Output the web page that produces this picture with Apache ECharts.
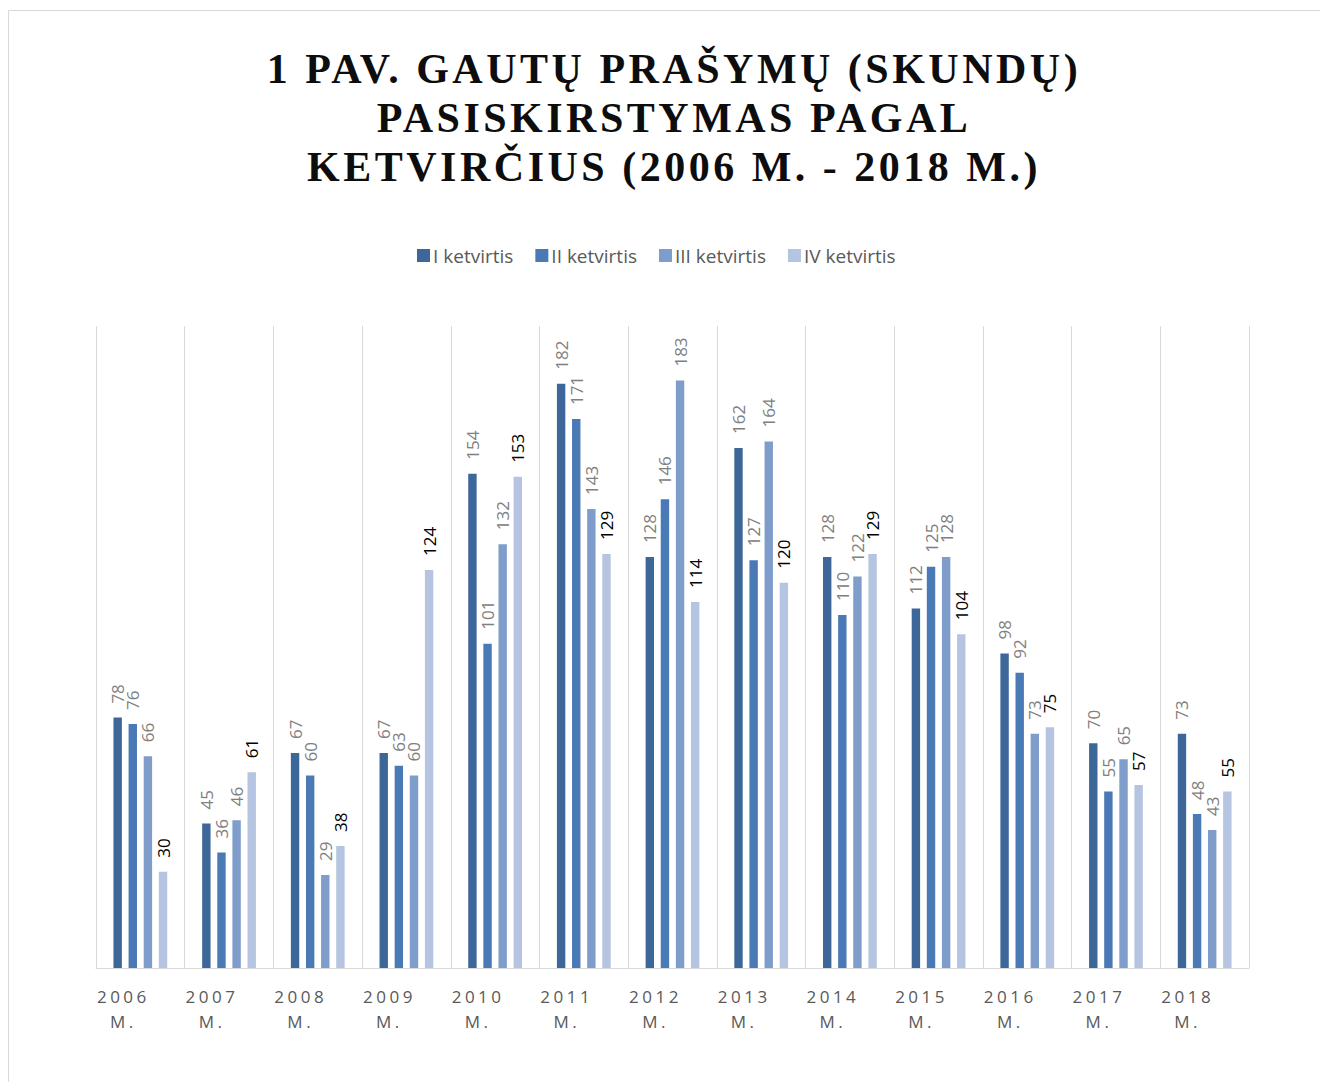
<!DOCTYPE html>
<html>
<head>
<meta charset="utf-8">
<script src="https://cdn.jsdelivr.net/npm/echarts@6/dist/echarts.min.js"></script>
<style>
  html, body { margin: 0; padding: 0; background: #fff; }
  #chart { width: 1320px; height: 1082px; }
</style>
</head>
<body>
<div id="chart"></div>
<script>
const titleLines = ['1 PAV. GAUTŲ PRAŠYMŲ (SKUNDŲ)', 'PASISKIRSTYMAS PAGAL', 'KETVIRČIUS (2006 M. - 2018 M.)'];
const categories = ['2006 M.', '2007 M.', '2008 M.', '2009 M.', '2010 M.', '2011 M.', '2012 M.', '2013 M.', '2014 M.', '2015 M.', '2016 M.', '2017 M.', '2018 M.'];
const seriesNames = ['I ketvirtis', 'II ketvirtis', 'III ketvirtis', 'IV ketvirtis'];
const q1 = [78, 45, 67, 67, 154, 182, 128, 162, 128, 112, 98, 70, 73];
const q2 = [76, 36, 60, 63, 101, 171, 146, 127, 110, 125, 92, 55, 48];
const q3 = [66, 46, 29, 60, 132, 143, 183, 164, 122, 128, 73, 65, 43];
const q4 = [30, 61, 38, 124, 153, 129, 114, 120, 129, 104, 75, 57, 55];

const colors = ['#3D6799', '#4A7AB6', '#7F9DCB', '#B4C4E1'];
const labelColors = ['#808080', '#808080', '#808080', '#000000'];
const values = [q1, q2, q3, q4];

const chart = echarts.init(document.getElementById('chart'), null, { renderer: 'svg' });

const series = values.map((v, i) => ({
  name: seriesNames[i],
  type: 'bar',
  data: v,
  barWidth: 8.4,
  barGap: '80%',
  itemStyle: { color: colors[i] },
  label: {
    show: true,
    position: 'top',
    rotate: 90,
    align: 'left',
    verticalAlign: 'middle',
    distance: 14,
    fontFamily: 'Open Sans',
    fontSize: 17,
    color: labelColors[i]
  }
}));

chart.setOption({
  animation: false,
  backgroundColor: '#ffffff',
  title: {
    text: titleLines.join('\n'),
    left: 674,
    top: 44,
    padding: 0,
    textAlign: 'center',
    textStyle: {
      fontFamily: 'Liberation Serif',
      fontWeight: 'bold',
      fontSize: 42,
      lineHeight: 49,
      color: '#0d0d0d'
    }
  },
  legend: {
    left: 417,
    top: 246,
    padding: 0,
    itemWidth: 13,
    itemHeight: 13,
    itemGap: 22,
    icon: 'rect',
    textStyle: { fontFamily: 'Open Sans', fontSize: 19, color: '#595959', padding: [0, 0, 0, -2] },
    data: seriesNames
  },
  grid: { left: 96, right: 71, top: 326, bottom: 114, containLabel: false },
  xAxis: {
    type: 'category',
    data: categories,
    axisLine: { show: true, lineStyle: { color: '#d9d9d9', width: 1 } },
    axisTick: { show: false },
    splitLine: { show: true, interval: 0, lineStyle: { color: '#d9d9d9', width: 1 } },
    axisLabel: {
      interval: 0,
      margin: 16,
      fontFamily: 'Open Sans',
      fontSize: 17,
      lineHeight: 25,
      color: '#595959',
      padding: [0, 34, 0, 0],
      formatter: (s) => s.replace(' ', '\n')
    }
  },
  yAxis: {
    type: 'value',
    min: 0,
    max: 200,
    interval: 20,
    show: false,
    splitLine: { show: false }
  },
  graphic: [{
    type: 'rect',
    shape: { x: 8.5, y: 10.5, width: 1400, height: 1200 },
    style: { fill: 'none', stroke: '#d9d9d9', lineWidth: 1 },
    silent: true,
    z: -10
  }],
  series: series
});

function applySpacing() {
  const texts = document.querySelectorAll('#chart svg text');
  texts.forEach(t => {
    const s = t.textContent;
    if (titleLines.indexOf(s) >= 0) {
      t.setAttribute('letter-spacing', '3.5');
    } else if (/^\d{4}$/.test(s) || s === 'M.') {
      t.setAttribute('letter-spacing', '3.5');
    }
  });
}
applySpacing();
chart.on('finished', applySpacing);
setTimeout(applySpacing, 50);
</script>
</body>
</html>
